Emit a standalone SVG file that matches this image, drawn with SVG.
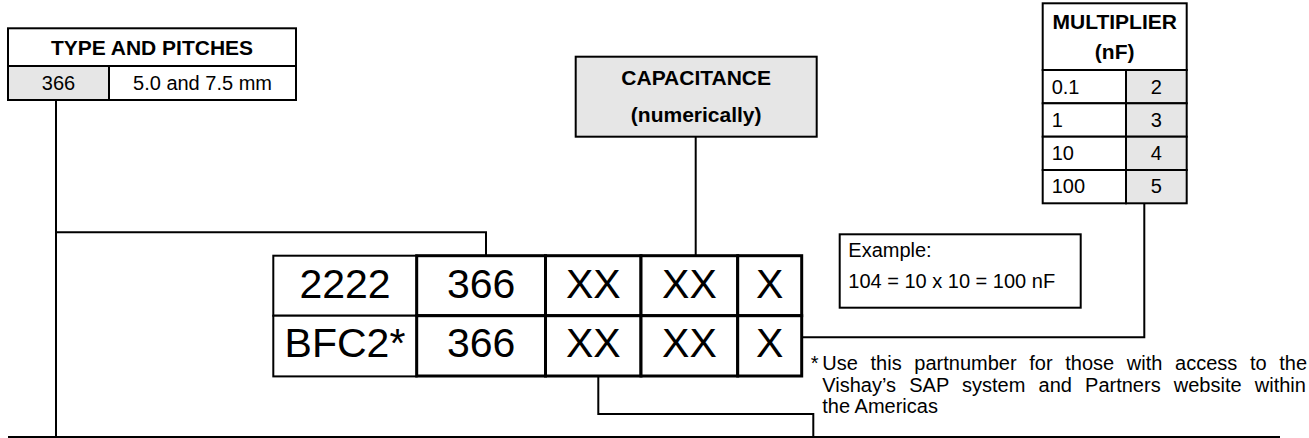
<svg xmlns="http://www.w3.org/2000/svg" width="1309" height="438" viewBox="0 0 1309 438">
<style>
.t{font-family:"Liberation Sans",Arial,Helvetica,sans-serif;fill:#000}
.b{font-weight:bold;font-size:21px}
.r{font-size:20px}
.big{font-size:41px}
.c{text-anchor:middle}
.box{fill:#fff;stroke:#000;stroke-width:2}
.gray{fill:#e6e6e6;stroke:#000;stroke-width:2}
.thick{fill:#fff;stroke:#000;stroke-width:3}
.conn{fill:none;stroke:#000;stroke-width:2}
</style>
<rect width="1309" height="438" fill="#fff"/>
<g id="connectors">
<path class="conn" d="M56,100 V437"/>
<path class="conn" d="M8,437 H1280"/>
<path class="conn" d="M56,232.3 H486 V255.7"/>
<path class="conn" d="M695.7,136.7 V255.7"/>
<path class="conn" d="M1144.3,203.3 V337.3 H801.7"/>
<path class="conn" d="M598.3,376 V414 H813.3 V437"/>
</g>
<g id="type-and-pitches">
<rect class="box" x="8" y="28.3" width="288" height="37.7"/>
<rect class="gray" x="8" y="66" width="101" height="34"/>
<rect class="box" x="109" y="66" width="187" height="34"/>
<text class="t b c" x="152" y="55">TYPE AND PITCHES</text>
<text class="t r c" x="58.5" y="90">366</text>
<text class="t r c" x="202.5" y="90">5.0 and 7.5 mm</text>
</g>
<g id="capacitance">
<rect class="gray" x="575.7" y="56.7" width="241" height="80"/>
<text class="t b c" x="696.2" y="85">CAPACITANCE</text>
<text class="t b c" x="696.2" y="122">(numerically)</text>
</g>
<g id="multiplier">
<rect class="box" x="1042.7" y="3.3" width="144" height="66.7"/>
<rect class="box" x="1042.7" y="70" width="83.3" height="33.3"/>
<rect class="gray" x="1126" y="70" width="60.7" height="33.3"/>
<rect class="box" x="1042.7" y="103.3" width="83.3" height="33.4"/>
<rect class="gray" x="1126" y="103.3" width="60.7" height="33.4"/>
<rect class="box" x="1042.7" y="136.7" width="83.3" height="33.3"/>
<rect class="gray" x="1126" y="136.7" width="60.7" height="33.3"/>
<rect class="box" x="1042.7" y="170" width="83.3" height="33.3"/>
<rect class="gray" x="1126" y="170" width="60.7" height="33.3"/>
<text class="t b c" x="1114.7" y="29.3">MULTIPLIER</text>
<text class="t b c" x="1114.7" y="58.5">(nF)</text>
<text class="t r" x="1051.7" y="94">0.1</text>
<text class="t r" x="1051.7" y="127">1</text>
<text class="t r" x="1051.7" y="160">10</text>
<text class="t r" x="1051.7" y="193.3">100</text>
<text class="t r c" x="1156.3" y="94">2</text>
<text class="t r c" x="1156.3" y="127">3</text>
<text class="t r c" x="1156.3" y="160">4</text>
<text class="t r c" x="1156.3" y="193.3">5</text>
</g>
<g id="example">
<rect class="box" x="839.7" y="234.3" width="241" height="73.4"/>
<text class="t r" x="848.3" y="257.3">Example:</text>
<text class="t r" x="848.3" y="288.3">104 = 10 x 10 = 100 nF</text>
</g>
<g id="part-number">
<rect class="box" x="273.3" y="255.7" width="143.4" height="60"/>
<rect class="box" x="273.3" y="315.7" width="143.4" height="60.7"/>
<rect class="thick" x="416.7" y="255.7" width="128.8" height="60"/>
<rect class="thick" x="545.5" y="255.7" width="95.5" height="60"/>
<rect class="thick" x="641" y="255.7" width="96.7" height="60"/>
<rect class="thick" x="737.7" y="255.7" width="64" height="60"/>
<rect class="thick" x="416.7" y="315.7" width="128.8" height="60.3"/>
<rect class="thick" x="545.5" y="315.7" width="95.5" height="60.3"/>
<rect class="thick" x="641" y="315.7" width="96.7" height="60.3"/>
<rect class="thick" x="737.7" y="315.7" width="64" height="60.3"/>
<text class="t big c" x="345" y="297.7">2222</text>
<text class="t big c" x="481.1" y="297.7">366</text>
<text class="t big c" x="593.3" y="297.7">XX</text>
<text class="t big c" x="689.4" y="297.7">XX</text>
<text class="t big c" x="769.7" y="297.7">X</text>
<text class="t big c" x="345" y="356.7">BFC2*</text>
<text class="t big c" x="481.1" y="356.7">366</text>
<text class="t big c" x="593.3" y="356.7">XX</text>
<text class="t big c" x="689.4" y="356.7">XX</text>
<text class="t big c" x="769.7" y="356.7">X</text>
</g>
<g id="footnote">
<text class="t r" x="810.7" y="370">*</text>
<text class="t r" x="822.3" y="370" word-spacing="7.1">Use this partnumber for those with access to the</text>
<text class="t r" x="822.3" y="391.7" word-spacing="7.6">Vishay’s SAP system and Partners website within</text>
<text class="t r" x="822.3" y="413.3">the Americas</text>
</g>
</svg>
